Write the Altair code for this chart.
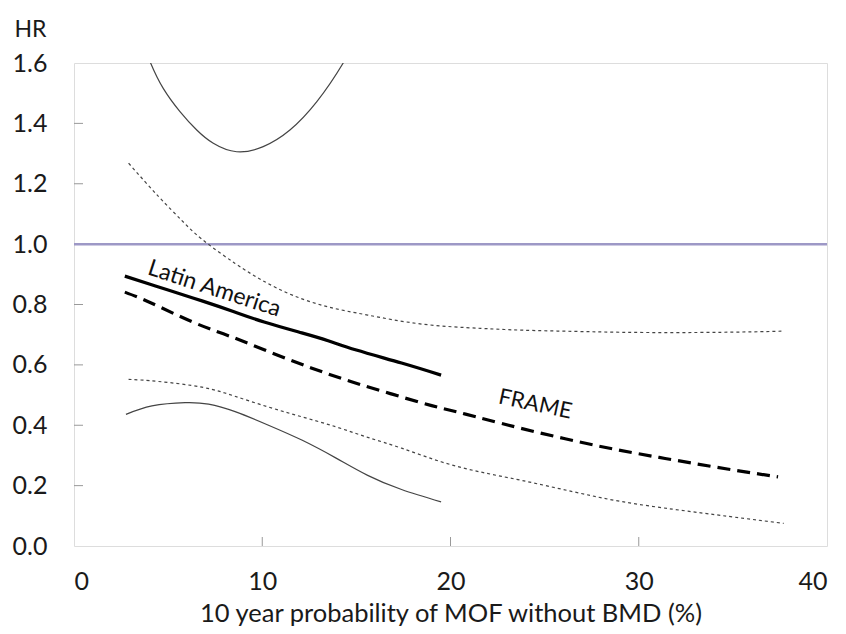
import altair as alt
import pandas as pd

# Latin America central estimate
la_x = [2.7, 4.0, 5.0, 6.8, 8.5, 10.1, 12.1, 13.5, 15.0, 17.4, 19.5]
la_hr = [0.894, 0.868, 0.848, 0.812, 0.776, 0.742, 0.706, 0.680, 0.649, 0.606, 0.566]

# Latin America lower CI
la_lo_x = [2.76, 4.14, 5.9, 7.15, 8.56, 10.3, 12.1, 13.9, 15.6, 17.4, 19.5]
la_lo = [0.436, 0.464, 0.475, 0.470, 0.445, 0.401, 0.351, 0.292, 0.234, 0.187, 0.146]

# Latin America upper CI (clipped at 1.6)
la_up_x = [2.7, 3.4, 4.07, 4.74, 5.63, 6.52, 7.4, 8.64, 10.05, 11.47, 12.9, 14.3, 15.5, 17.0, 19.5]
la_up = [1.84, 1.71, 1.60, 1.516, 1.439, 1.378, 1.334, 1.306, 1.323, 1.378, 1.472, 1.60, 1.74, 1.95, 2.35]

# FRAME central estimate
fr_x = [2.7, 4.1, 6.3, 8.4, 10.5, 12.6, 14.7, 16.9, 19.0, 20.8, 23.6, 27.8, 31.4, 34.7, 37.4]
fr_hr = [0.841, 0.805, 0.742, 0.692, 0.640, 0.590, 0.545, 0.503, 0.465, 0.437, 0.392, 0.332, 0.290, 0.255, 0.229]

# FRAME lower CI
fr_lo_x = [2.9, 4.5, 6.8, 8.5, 10.3, 12.1, 13.9, 15.6, 17.4, 19.5, 21.6, 23.8, 26.5, 29.1, 31.8, 34.4, 37.7]
fr_lo = [0.552, 0.545, 0.526, 0.497, 0.461, 0.428, 0.395, 0.360, 0.324, 0.279, 0.245, 0.217, 0.180, 0.147, 0.122, 0.101, 0.075]

# FRAME upper CI
fr_up_x = [2.9, 4.5, 5.7, 6.8, 8.56, 10.0, 11.6, 13.5, 15.6, 18.5, 21.6, 23.8, 26.5, 29.1, 31.8, 34.4, 36.5, 37.7]
fr_up = [1.268, 1.157, 1.08, 1.016, 0.936, 0.880, 0.831, 0.792, 0.765, 0.735, 0.721, 0.715, 0.711, 0.708, 0.707, 0.708, 0.710, 0.712]

ref_hr = [1.0]
x_ticks = [0, 10, 20, 30, 40]
y_ticks = [0.0, 0.2, 0.4, 0.6, 0.8, 1.0, 1.2, 1.4, 1.6]
inner_x_ticks = [10, 20, 30]
inner_y_ticks = [0.2, 0.4, 0.6, 0.8, 1.2, 1.4]

labels = ["Latin America", "FRAME"]
label_x = [7.45, 24.5]
label_y = [0.852, 0.470]

FONT = "Lato"
W, H = 753, 483

xs = alt.Scale(domain=[0, 40], nice=False)
ys = alt.Scale(domain=[0, 1.6], nice=False)

x_axis = alt.Axis(values=x_ticks, format="d", ticks=False, domain=False, grid=False,
                  labelFontSize=25, labelFont=FONT, labelColor="#1a1a1a", labelPadding=23,
                  title="10 year probability of MOF without BMD (%)", titleFont=FONT,
                  titleFontSize=25.5, titleFontWeight="normal", titleColor="#1a1a1a", titlePadding=7)
y_axis = alt.Axis(values=y_ticks, format=".1f", ticks=False, domain=False, grid=False,
                  labelFontSize=25, labelFont=FONT, labelColor="#1a1a1a", labelPadding=27,
                  title="HR", titleFont=FONT, titleFontSize=23, titleFontWeight="normal",
                  titleColor="#1a1a1a", titleAngle=0, titleAlign="left", titleBaseline="middle",
                  titleX=-60, titleY=-34)


def line(xv, yv, width, dash=None, color="#111111", clip=False, interp="natural"):
    df = pd.DataFrame({"x": xv, "hr": yv})
    kw = dict(strokeWidth=width, color=color, interpolate=interp, clip=clip)
    if dash:
        kw["strokeDash"] = dash
    return alt.Chart(df).mark_line(**kw).encode(
        x=alt.X("x:Q", scale=xs, axis=x_axis),
        y=alt.Y("hr:Q", scale=ys, axis=y_axis),
    )


ref = alt.Chart(pd.DataFrame({"hr": ref_hr})).mark_rule(color="#9d98c6", strokeWidth=2.5).encode(
    y=alt.Y("hr:Q", scale=ys, axis=y_axis), x=alt.value(0), x2=alt.value(W))

xt = alt.Chart(pd.DataFrame({"x": inner_x_ticks})).mark_rule(color="#999999", strokeWidth=1).encode(
    x=alt.X("x:Q", scale=xs, axis=x_axis), y=alt.value(H), y2=alt.value(H - 9))
yt = alt.Chart(pd.DataFrame({"hr": inner_y_ticks})).mark_rule(color="#999999", strokeWidth=1).encode(
    y=alt.Y("hr:Q", scale=ys, axis=y_axis), x=alt.value(0), x2=alt.value(9))

lab_df = pd.DataFrame({"t": labels, "x": label_x, "hr": label_y})
lab1 = alt.Chart(lab_df[lab_df.t == "Latin America"]).mark_text(
    font=FONT, fontSize=23, color="#111111", angle=18, align="center", baseline="middle").encode(
    x=alt.X("x:Q", scale=xs, axis=x_axis), y=alt.Y("hr:Q", scale=ys, axis=y_axis), text="t:N")
lab2 = alt.Chart(lab_df[lab_df.t == "FRAME"]).mark_text(
    font=FONT, fontSize=22, color="#111111", angle=12, align="center", baseline="middle").encode(
    x=alt.X("x:Q", scale=xs, axis=x_axis), y=alt.Y("hr:Q", scale=ys, axis=y_axis), text="t:N")

chart = alt.layer(
    xt, yt, ref,
    line(la_up_x, la_up, 1.2, color="#444444", clip=True),
    line(la_lo_x, la_lo, 1.2, color="#444444"),
    line(fr_up_x, fr_up, 1.2, dash=[3, 3], color="#444444"),
    line(fr_lo_x, fr_lo, 1.2, dash=[3, 3], color="#444444"),
    line(la_x, la_hr, 3.2, color="#000000"),
    line(fr_x, fr_hr, 3.2, dash=[13, 7], color="#000000"),
    lab1, lab2,
).properties(
    width=W, height=H,
    autosize=alt.AutoSizeParams(type="none"),
    padding={"left": 66, "top": 55, "right": 10, "bottom": 80},
).configure_view(stroke="#8a8a8a", strokeWidth=1.5).configure(background="white")

chart.save("out.html", embed_options={"renderer": "svg", "actions": False})
